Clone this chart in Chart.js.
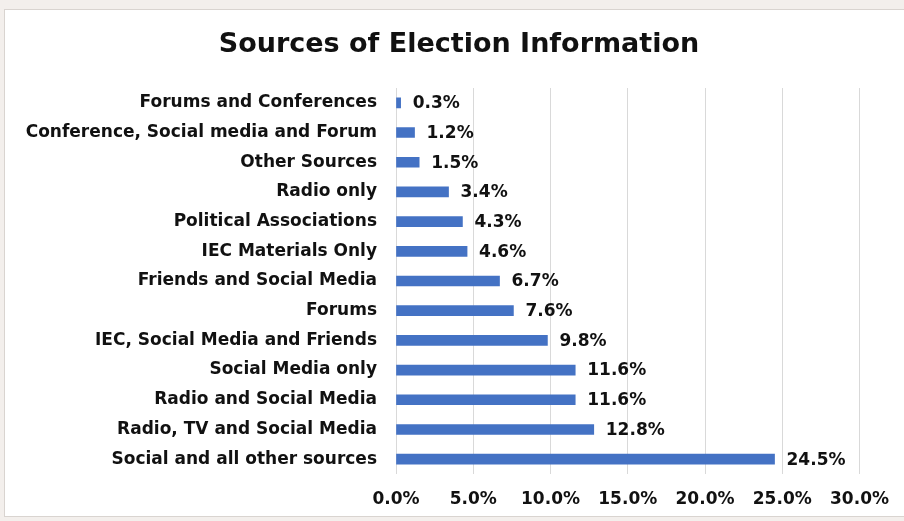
<!DOCTYPE html>
<html>
<head>
<meta charset="utf-8">
<script src="https://cdn.jsdelivr.net/npm/chart.js@4.4.1/dist/chart.umd.min.js"></script>
<style>
  html, body { margin: 0; padding: 0; background: #f3efec; }
  #frame {
    position: absolute; left: 4px; top: 9px; width: 904px; height: 508px;
    background: #fff; border: 1px solid #d9d4d0; box-sizing: border-box;
  }
  #chart-wrap { position: absolute; left: 0; top: 0; width: 904px; height: 521px; }
</style>
</head>
<body>
<div id="frame"></div>
<div id="chart-wrap"><canvas id="sources-chart"></canvas></div>
<script>
const categories = [
    'Forums and Conferences',
    'Conference, Social media and Forum',
    'Other Sources',
    'Radio only',
    'Political Associations',
    'IEC Materials Only',
    'Friends and Social Media',
    'Forums',
    'IEC, Social Media and Friends',
    'Social Media only',
    'Radio and Social Media',
    'Radio, TV and Social Media',
    'Social and all other sources'
];
const shares = [0.3, 1.2, 1.5, 3.4, 4.3, 4.6, 6.7, 7.6, 9.8, 11.6, 11.6, 12.8, 24.5];
const xTicks = [0, 5, 10, 15, 20, 25, 30];
const chartTitle = 'Sources of Election Information';

const FONT = '"DejaVu Sans", sans-serif';
const PAD_LEFT = 10;
const AXIS_X = 396;

// title centred over the whole panel, not just the layout box
const panelTitle = {
    id: 'panelTitle',
    afterDraw(chart) {
        const ctx = chart.ctx;
        ctx.save();
        ctx.font = 'bold 27px ' + FONT;
        ctx.fillStyle = '#111';
        ctx.textAlign = 'center';
        ctx.textBaseline = 'middle';
        ctx.fillText(chartTitle, 459, 45);
        ctx.restore();
    }
};

// writes the percentage just past the end of every bar
const barValueLabels = {
    id: 'barValueLabels',
    afterDatasetsDraw(chart) {
        const ctx = chart.ctx;
        const meta = chart.getDatasetMeta(0);
        ctx.save();
        ctx.font = 'bold 17px ' + FONT;
        ctx.fillStyle = '#111';
        ctx.textAlign = 'left';
        ctx.textBaseline = 'middle';
        meta.data.forEach((bar, i) => {
            ctx.fillText(shares[i].toFixed(1) + '%', bar.x + 12, bar.y + 1);
        });
        ctx.restore();
    }
};

new Chart(document.getElementById('sources-chart'), {
    type: 'bar',
    data: {
        labels: categories,
        datasets: [{
            data: shares,
            backgroundColor: '#4472c4',
            barThickness: 10
        }]
    },
    options: {
        indexAxis: 'y',
        responsive: true,
        maintainAspectRatio: false,
        animation: false,
        layout: { padding: { left: PAD_LEFT, right: 44, top: 88, bottom: 1 } },
        plugins: {
            legend: { display: false },
            tooltip: { enabled: false },
            title: { display: false }
        },
        scales: {
            x: {
                min: 0,
                max: 30,
                afterBuildTicks: scale => {
                    scale.ticks = xTicks.map(v => ({ value: v }));
                },
                afterFit: scale => { scale.height = 46; },
                grid: { color: '#d9d9d9', lineWidth: 1, drawTicks: false },
                border: { display: false },
                ticks: {
                    color: '#111',
                    padding: 15,
                    font: { family: FONT, size: 17, weight: 'bold' },
                    callback: value => value.toFixed(1) + '%'
                }
            },
            y: {
                afterFit: scale => { scale.width = AXIS_X - PAD_LEFT; },
                grid: { display: false, drawTicks: false },
                border: { display: false },
                ticks: {
                    color: '#111',
                    padding: 19,
                    font: { family: FONT, size: 17, weight: 'bold' }
                }
            }
        }
    },
    plugins: [barValueLabels, panelTitle]
});
</script>
</body>
</html>
